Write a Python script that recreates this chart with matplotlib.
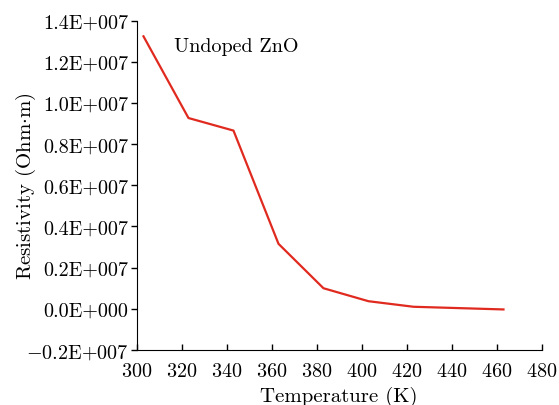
import matplotlib
matplotlib.use('Agg')
import matplotlib.pyplot as plt
from matplotlib.ticker import FuncFormatter

plt.rcParams['font.family'] = 'serif'
plt.rcParams['font.serif'] = ['cmr10']
plt.rcParams['mathtext.fontset'] = 'cm'
plt.rcParams['axes.formatter.use_mathtext'] = True

temperature = [303, 323, 343, 363, 383, 403, 423, 463]
resistivity = [13.24e6, 9.27e6, 8.66e6, 3.16e6, 1.0e6, 0.37e6, 0.1e6, -0.03e6]

x_ticks = [300, 320, 340, 360, 380, 400, 420, 440, 460, 480]
y_ticks = [-0.2e7, 0.0, 0.2e7, 0.4e7, 0.6e7, 0.8e7, 1.0e7, 1.2e7, 1.4e7]


def sci_label(v, pos):
    # origin-style labels like 1.4E+007
    if abs(v) < 1:
        return '0.0E+000'
    s = '%.1fE+007' % (abs(v) / 1e7)
    if v < 0:
        s = '$-$' + s
    return s


fig = plt.figure(figsize=(5.59, 4.06), dpi=100)
ax = fig.add_axes([0.2446, 0.1355, 0.7245, 0.8111])

ax.plot(temperature, resistivity, color='#e02a1f', linewidth=1.6)

ax.set_xlim(300, 480)
ax.set_ylim(-0.2e7, 1.4e7)
ax.set_xticks(x_ticks)
ax.set_yticks(y_ticks)
ax.yaxis.set_major_formatter(FuncFormatter(sci_label))

ax.spines['top'].set_visible(False)
ax.spines['right'].set_visible(False)
ax.tick_params(axis='y', direction='out', length=4, width=1, labelsize=14.5, pad=2)
ax.tick_params(axis='x', direction='in', length=4, width=1, labelsize=14.5, pad=9)

ax.set_xlabel('Temperature (K)', fontsize=15, labelpad=4)
ax.set_ylabel(r'Resistivity (Ohm$\cdot$m)', fontsize=15)
ax.yaxis.set_label_coords(-0.245, 0.5)

ax.text(316.5, 1.275e7, 'Undoped ZnO', fontsize=14.5, va='center', ha='left')

fig.savefig('out.png', dpi=100)
